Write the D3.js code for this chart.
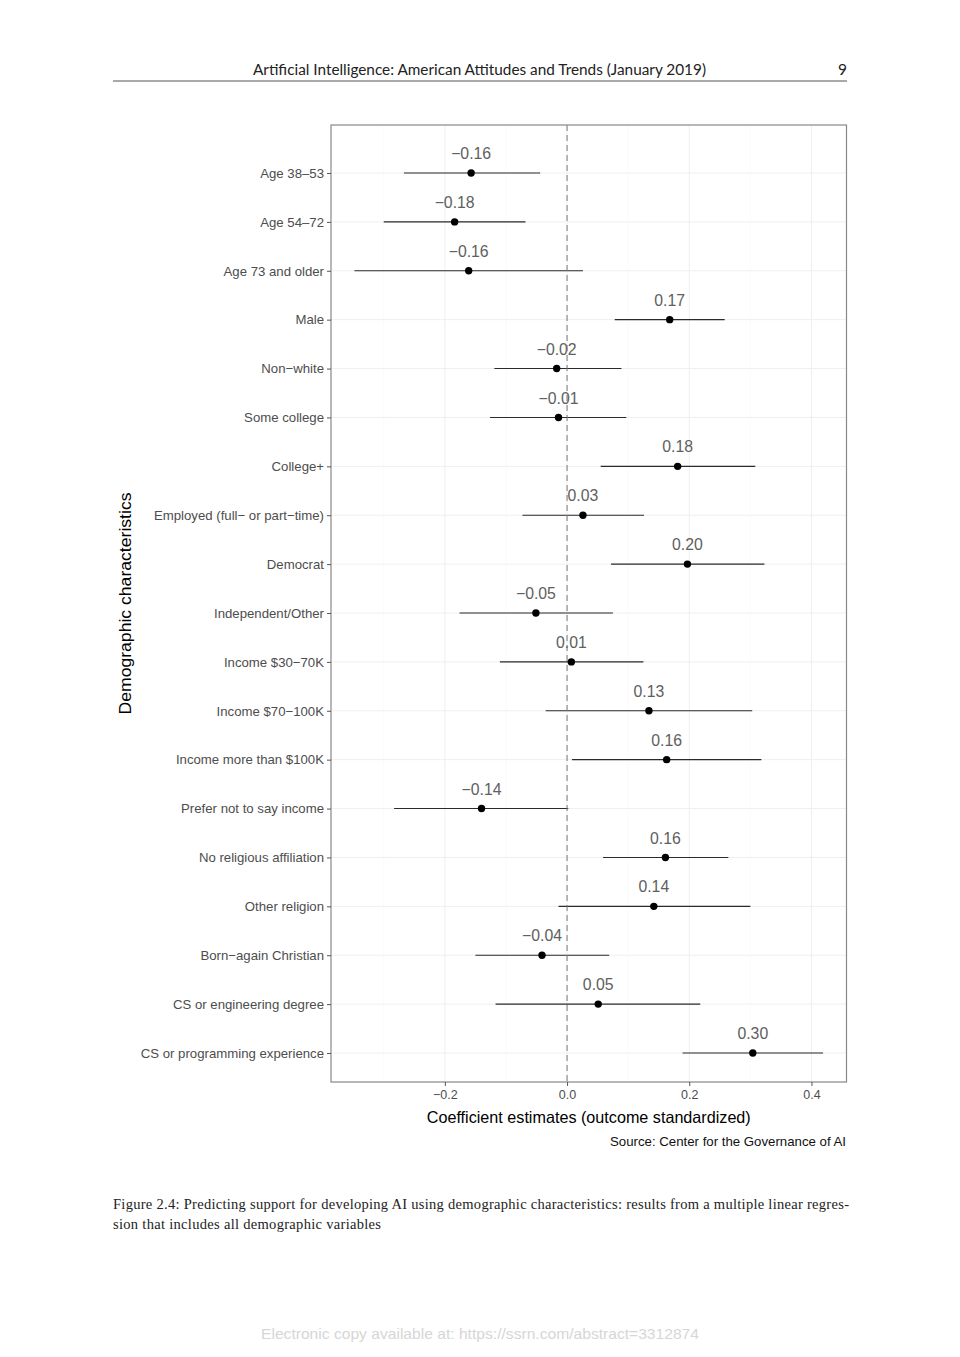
<!DOCTYPE html>
<html>
<head>
<meta charset="utf-8">
<script src="https://cdn.jsdelivr.net/npm/d3@7"></script>
<style>
  body { margin: 0; background: #fff; }
  svg { display: block; }
</style>
</head>
<body>
<div id="content"></div>
<script>
// Chart data
var categories = [
  "Age 38\u201353", "Age 54\u201372", "Age 73 and older", "Male", "Non\u2212white",
  "Some college", "College+", "Employed (full\u2212 or part\u2212time)", "Democrat",
  "Independent/Other", "Income $30\u221270K", "Income $70\u2212100K",
  "Income more than $100K", "Prefer not to say income", "No religious affiliation",
  "Other religion", "Born\u2212again Christian", "CS or engineering degree",
  "CS or programming experience"
];
var estimates = [-0.157, -0.184, -0.161, 0.168, -0.017, -0.014, 0.181, 0.026, 0.197,
  -0.051, 0.007, 0.134, 0.163, -0.140, 0.161, 0.142, -0.041, 0.051, 0.304];
var lowerCI = [-0.267, -0.300, -0.348, 0.078, -0.119, -0.126, 0.055, -0.073, 0.072,
  -0.176, -0.110, -0.035, 0.008, -0.283, 0.059, -0.014, -0.150, -0.117, 0.189];
var upperCI = [-0.044, -0.068, 0.026, 0.258, 0.089, 0.097, 0.308, 0.126, 0.323,
  0.075, 0.125, 0.303, 0.318, 0.002, 0.264, 0.300, 0.069, 0.218, 0.419];
var xTicks = [-0.2, 0, 0.2, 0.4];
var xMinor = [-0.3, -0.1, 0.1, 0.3];

var width = 960;
var height = 1357;

// Panel box
var panelLeft = 331;
var panelRight = 846.5;
var panelTop = 125;
var panelBottom = 1082;

var sans = "'Liberation Sans', Arial, Helvetica, sans-serif";

var svg = d3.select("#content")
  .append("svg")
  .attr("width", width)
  .attr("height", height);

// Page header
svg.append("text")
  .attr("x", 479.5)
  .attr("y", 75)
  .attr("text-anchor", "middle")
  .attr("textLength", 453)
  .attr("lengthAdjust", "spacingAndGlyphs")
  .style("font-family", "Lato, 'Open Sans', sans-serif")
  .style("font-size", "15.5px")
  .style("fill", "#222")
  .text("Artificial Intelligence: American Attitudes and Trends (January 2019)");
svg.append("text")
  .attr("x", 847)
  .attr("y", 75)
  .attr("text-anchor", "end")
  .style("font-family", "Lato, 'Open Sans', sans-serif")
  .style("font-size", "15.5px")
  .style("fill", "#222")
  .text("9");
svg.append("line")
  .attr("x1", 113).attr("x2", 847)
  .attr("y1", 81).attr("y2", 81)
  .style("stroke", "#555")
  .style("stroke-width", 1.2);

// Scales (x range gets ggplot's 5% expansion)
var lo = d3.min(lowerCI), hi = d3.max(upperCI);
var pad = (hi - lo) * 0.05;
var x = d3.scaleLinear()
  .domain([lo - pad, hi + pad])
  .range([panelLeft, panelRight]);

var y = d3.scalePoint()
  .domain(categories)
  .range([173, 1053]);
var step = y.step();

// Grid lines
var grid = svg.append("g");
grid.selectAll("line.minor")
  .data(xMinor)
  .enter().append("line")
  .attr("x1", d => x(d)).attr("x2", d => x(d))
  .attr("y1", panelTop).attr("y2", panelBottom)
  .style("stroke", "#f6f6f6")
  .style("stroke-width", 0.6);
grid.selectAll("line.majorx")
  .data(xTicks)
  .enter().append("line")
  .attr("x1", d => x(d)).attr("x2", d => x(d))
  .attr("y1", panelTop).attr("y2", panelBottom)
  .style("stroke", "#efefef")
  .style("stroke-width", 1);
grid.selectAll("line.majory")
  .data(categories)
  .enter().append("line")
  .attr("x1", panelLeft).attr("x2", panelRight)
  .attr("y1", d => y(d)).attr("y2", d => y(d))
  .style("stroke", "#efefef")
  .style("stroke-width", 1);

var rows = categories.map(function(c, i) {
  return {name: c, est: estimates[i], lo: lowerCI[i], hi: upperCI[i]};
});

// Confidence intervals
svg.selectAll("line.ci")
  .data(rows)
  .enter().append("line")
  .attr("x1", d => x(d.lo)).attr("x2", d => x(d.hi))
  .attr("y1", d => y(d.name)).attr("y2", d => y(d.name))
  .style("stroke", "#2a2a2a")
  .style("stroke-width", 1.1);

// Estimate labels
var fmt = d3.format(".2f");
svg.selectAll("text.est")
  .data(rows)
  .enter().append("text")
  .attr("x", d => x(d.est))
  .attr("y", d => y(d.name) - 0.4 * step)
  .attr("dy", "0.36em")
  .attr("text-anchor", "middle")
  .style("font-family", sans)
  .style("font-size", "15.8px")
  .style("fill", "#606060")
  .text(d => fmt(d.est));

// Zero reference line
svg.append("line")
  .attr("x1", x(0)).attr("x2", x(0))
  .attr("y1", panelTop).attr("y2", panelBottom)
  .style("stroke", "#777")
  .style("stroke-width", 1)
  .style("stroke-dasharray", "6,4");

// Points
svg.selectAll("circle.pt")
  .data(rows)
  .enter().append("circle")
  .attr("cx", d => x(d.est))
  .attr("cy", d => y(d.name))
  .attr("r", 3.7)
  .style("fill", "#000");

// Panel border
svg.append("rect")
  .attr("x", panelLeft).attr("y", panelTop)
  .attr("width", panelRight - panelLeft)
  .attr("height", panelBottom - panelTop)
  .style("fill", "none")
  .style("stroke", "#888")
  .style("stroke-width", 1.2);

// Axes
var yAxis = svg.append("g")
  .attr("transform", "translate(" + panelLeft + ",0)")
  .call(d3.axisLeft(y).tickSize(4).tickPadding(3));
var xAxis = svg.append("g")
  .attr("transform", "translate(0," + panelBottom + ")")
  .call(d3.axisBottom(x).tickValues(xTicks).tickFormat(d3.format(".1f")).tickSize(4).tickPadding(4));

[yAxis, xAxis].forEach(function(g) {
  g.select(".domain").remove();
  g.selectAll(".tick line").style("stroke", "#555");
  g.selectAll(".tick text")
    .style("font-family", sans)
    .style("fill", "#4d4d4d");
});
yAxis.selectAll(".tick text").style("font-size", "13.2px");
xAxis.selectAll(".tick text").style("font-size", "12.5px");

// Axis titles
svg.append("text")
  .attr("x", (panelLeft + panelRight) / 2)
  .attr("y", 1123)
  .attr("text-anchor", "middle")
  .attr("textLength", 324)
  .attr("lengthAdjust", "spacingAndGlyphs")
  .style("font-family", sans)
  .style("font-size", "16.5px")
  .style("fill", "#000")
  .text("Coefficient estimates (outcome standardized)");
svg.append("text")
  .attr("transform", "translate(131," + (panelTop + panelBottom) / 2 + ") rotate(-90)")
  .attr("text-anchor", "middle")
  .attr("textLength", 222)
  .attr("lengthAdjust", "spacingAndGlyphs")
  .style("font-family", sans)
  .style("font-size", "16.5px")
  .style("fill", "#000")
  .text("Demographic characteristics");

// Source note
svg.append("text")
  .attr("x", 846)
  .attr("y", 1146)
  .attr("text-anchor", "end")
  .attr("textLength", 236)
  .attr("lengthAdjust", "spacingAndGlyphs")
  .style("font-family", sans)
  .style("font-size", "13px")
  .style("fill", "#111")
  .text("Source: Center for the Governance of AI");

// Caption
var serif = "'Liberation Serif', 'DejaVu Serif', serif";
svg.append("text")
  .attr("x", 113)
  .attr("y", 1209)
  .attr("textLength", 736)
  .attr("lengthAdjust", "spacing")
  .style("font-family", serif)
  .style("font-size", "14.5px")
  .style("fill", "#222")
  .text("Figure 2.4: Predicting support for developing AI using demographic characteristics: results from a multiple linear regres-");
svg.append("text")
  .attr("x", 113)
  .attr("y", 1229)
  .attr("textLength", 268)
  .attr("lengthAdjust", "spacing")
  .style("font-family", serif)
  .style("font-size", "14.5px")
  .style("fill", "#222")
  .text("sion that includes all demographic variables");

// Footer watermark
svg.append("text")
  .attr("x", 480)
  .attr("y", 1339)
  .attr("text-anchor", "middle")
  .attr("textLength", 438)
  .attr("lengthAdjust", "spacingAndGlyphs")
  .style("font-family", sans)
  .style("font-size", "15px")
  .style("fill", "#d6d6d6")
  .text("Electronic copy available at: https://ssrn.com/abstract=3312874");
</script>
</body>
</html>
